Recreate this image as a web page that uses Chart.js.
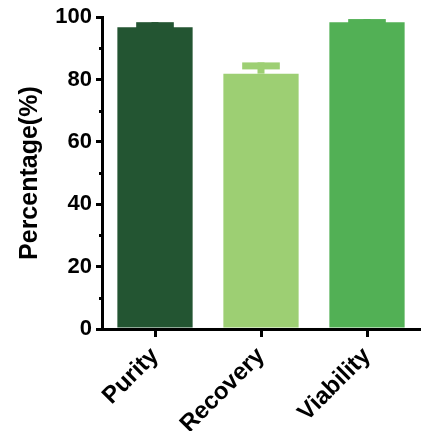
<!DOCTYPE html>
<html>
<head>
<meta charset="utf-8">
<script src="https://cdn.jsdelivr.net/npm/chart.js@4.4.1/dist/chart.umd.min.js"></script>
<style>
  html, body { margin: 0; padding: 0; background: #fff; }
</style>
</head>
<body>
<canvas id="barChart" width="421" height="431"></canvas>
<script>
var categories = ['Purity', 'Recovery', 'Viability'];
var means = [96.8, 81.9, 98.4];
var sds = [1.6, 3.6, 1.0];
var barColors = ['#235532', '#9dcf73', '#52b055'];

var font = "'Liberation Sans', Arial, Helvetica, sans-serif";

// error bars (mean + SD) and the small minor ticks on y
var extras = {
	id: 'extras',
	afterDatasetsDraw: function(chart) {
		var ctx = chart.ctx;
		var y = chart.scales.y;
		var meta = chart.getDatasetMeta(0);
		ctx.save();
		meta.data.forEach(function(bar, i) {
			var top = y.getPixelForValue(means[i] + sds[i]);
			var capW = bar.width / 2;
			ctx.fillStyle = barColors[i];
			ctx.fillRect(bar.x - 3.5, top, 7, bar.y - top);
			ctx.fillRect(bar.x - capW / 2, top, capW, 7);
		});
		ctx.strokeStyle = '#000';
		ctx.lineWidth = 3;
		for (var v = 10; v < 100; v += 20) {
			var py = Math.round(y.getPixelForValue(v)) + 0.5;
			ctx.beginPath();
			ctx.moveTo(y.right - 3, py);
			ctx.lineTo(y.right, py);
			ctx.stroke();
		}
		ctx.restore();
	}
};

var ctx = document.getElementById('barChart').getContext('2d');
var myChart = new Chart(ctx, {
	type: 'bar',
	data: {
		labels: categories,
		datasets: [{
			data: means,
			backgroundColor: barColors,
			borderWidth: 0,
			categoryPercentage: 1,
			barPercentage: 0.71
		}]
	},
	options: {
		responsive: false,
		animation: false,
		devicePixelRatio: 1,
		layout: { padding: { top: 17, right: 1, left: 0, bottom: 0 } },
		plugins: {
			legend: { display: false },
			tooltip: { enabled: false }
		},
		scales: {
			x: {
				grid: {
					display: true,
					drawOnChartArea: false,
					offset: false,
					color: '#000',
					lineWidth: 3,
					tickLength: 8
				},
				border: { display: true, color: '#000', width: 3 },
				ticks: {
					color: '#000',
					padding: 5,
					minRotation: 45,
					maxRotation: 45,
					font: { family: font, size: 24, weight: 'bold' }
				},
				afterFit: function(scale) { scale.height = 102; }
			},
			y: {
				min: 0,
				max: 100,
				grid: {
					display: true,
					drawOnChartArea: false,
					color: '#000',
					lineWidth: 3,
					tickLength: 6
				},
				border: { display: true, color: '#000', width: 3 },
				ticks: {
					stepSize: 20,
					color: '#000',
					padding: 4,
					font: { family: font, size: 22, weight: 'bold' }
				},
				title: {
					display: true,
					text: 'Percentage(%)',
					color: '#000',
					padding: { top: 15, bottom: 0 },
					font: { family: font, size: 25, weight: 'bold' }
				},
				afterFit: function(scale) { scale.width = 102; }
			}
		}
	},
	plugins: [extras]
});
</script>
</body>
</html>
